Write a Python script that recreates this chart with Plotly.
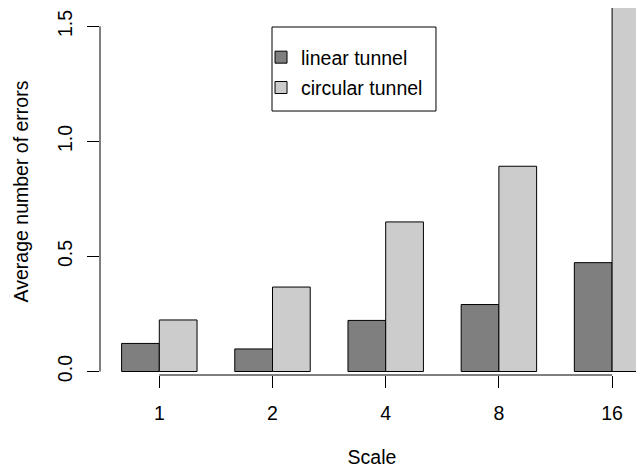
import plotly.graph_objects as go

scales = ["1", "2", "4", "8", "16"]
linear_tunnel = [0.122, 0.098, 0.222, 0.291, 0.473]
circular_tunnel = [0.224, 0.367, 0.650, 0.892, 1.75]
y_ticks = [0.0, 0.5, 1.0, 1.5]
y_ticklabels = ["0.0", "0.5", "1.0", "1.5"]

pos = list(range(len(scales)))
FONT = "Liberation Sans, Arial, sans-serif"
FS = 19.5

fig = go.Figure()
fig.add_trace(go.Bar(x=pos, y=linear_tunnel, name="linear tunnel", legendgroup="a",
                     marker=dict(color="#7f7f7f", line=dict(color="black", width=1))))
fig.add_trace(go.Bar(x=pos, y=circular_tunnel, name="circular tunnel", legendgroup="b",
                     marker=dict(color="#cccccc", line=dict(color="black", width=1))))

fig.update_layout(
    width=636, height=460,
    margin=dict(l=92, r=0, t=0, b=93),
    plot_bgcolor="white", paper_bgcolor="white",
    barmode="group", bargap=1/3, bargroupgap=0,
    font=dict(family=FONT, size=FS, color="black"),
    showlegend=True,
    legend=dict(x=0.296, y=0.9183, xanchor="left", yanchor="top",
                borderwidth=0, bgcolor="rgba(0,0,0,0)", traceorder="grouped",
                font=dict(size=FS), itemwidth=30, tracegroupgap=2),
    xaxis=dict(range=[-0.524, 4.282], tickmode="array", tickvals=pos, ticktext=scales,
               showgrid=False, zeroline=False, showline=False,
               ticks="outside", ticklen=12, tickcolor="black", tickwidth=1,
               ticklabelstandoff=9,
               title=dict(text="Scale", standoff=31, font=dict(size=FS))),
    yaxis=dict(range=[-0.0152, 1.5797], tickmode="array", tickvals=y_ticks, ticktext=y_ticklabels,
               showgrid=False, zeroline=False, showline=False,
               ticks="outside", ticklen=12, tickcolor="black", tickwidth=1,
               tickangle=-90, ticklabelstandoff=7,
               title=dict(text="Average number of errors", standoff=20, font=dict(size=FS))),
)

# R-style axis lines spanning only first to last tick
fig.add_shape(type="line", xref="paper", yref="y", x0=0, x1=0, y0=y_ticks[0], y1=y_ticks[-1],
              line=dict(color="black", width=1))
fig.add_shape(type="line", xref="x", yref="paper", x0=pos[0], x1=pos[-1], y0=0, y1=0,
              line=dict(color="black", width=1))
# legend frame
fig.add_shape(type="rect", xref="paper", yref="paper", x0=0.3162, x1=0.6176, y0=0.7193, y1=0.9482,
              line=dict(color="black", width=1), fillcolor="rgba(0,0,0,0)")

fig.write_html("out.html")
